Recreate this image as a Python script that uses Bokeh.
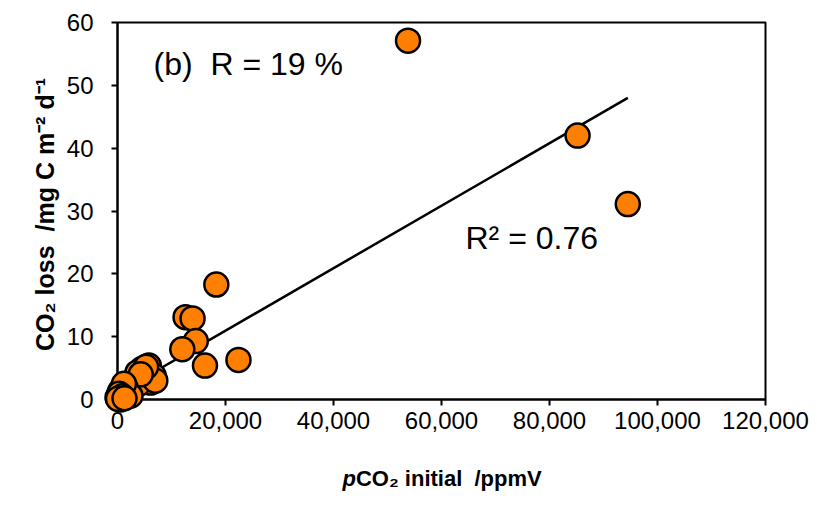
import math
from bokeh.plotting import figure
from bokeh.models import Range1d, Label, BoxAnnotation, NumeralTickFormatter, FixedTicker, LinearAxis
from bokeh.embed import file_html
from bokeh.resources import INLINE

# ---- data ----
x_vals = [53800, 85200, 94500, 18300, 12600, 13900, 14500, 12000, 16200, 22400,
          5800, 4600, 3700, 6700, 4800, 6100, 3900, 7000, 5300, 4300,
          1500, 560, 0, 2400, 560, 1200, 300, 900, 100, 1300]
y_vals = [57.1, 42.0, 31.1, 18.3, 13.1, 12.9, 9.3, 8.0, 5.4, 6.3,
          5.4, 4.9, 4.3, 3.8, 3.3, 2.7, 2.5, 3.0, 5.2, 4.0,
          1.9, 1.4, 0.3, 0.6, 0.0, 2.5, 0.9, 0.5, 0.1, 0.2]
trend_x = [0, 94500]
trend_y = [1.0, 48.0]
x_ticks = [0, 20000, 40000, 60000, 80000, 100000, 120000]
y_ticks = [0, 10, 20, 30, 40, 50, 60]
NB = "\u00a0"
label_b = "(b)" + NB + " R = 19 %"
label_r2 = "R\u00b2 = 0.76"
x_title_p = "p"
x_title_rest = "CO\u2082 initial" + NB + " /ppmV"
y_title = "CO\u2082 loss" + NB + " /mg C m\u207b\u00b2 d\u207b\u00b9"

# ---- layout: the frame covers the whole canvas ----
W, H = 815, 503
FONT = "Liberation Sans"
L, R, T, B = 117, 765, 22, 399      # pixel positions of x=0, x=120000, y=60, y=0
pxx = (R - L) / 120000.0
pxy = (B - T) / 60.0
def dx(px):
    return (px - L) / pxx
def dy(py):
    return (B - py) / pxy

p = figure(width=W, height=H, output_backend="svg", toolbar_location=None,
           x_range=Range1d(dx(0), dx(W)), y_range=Range1d(dy(H), dy(0)),
           x_axis_type=None, y_axis_type=None,
           min_border=0, min_border_left=0, min_border_right=0,
           min_border_top=0, min_border_bottom=0)
p.outline_line_color = None
p.background_fill_color = "white"
p.border_fill_color = "white"

xax = LinearAxis(fixed_location=0, ticker=FixedTicker(ticks=x_ticks),
                 formatter=NumeralTickFormatter(format="0,0"),
                 bounds=(x_ticks[0], x_ticks[-1]))
yax = LinearAxis(fixed_location=0, ticker=FixedTicker(ticks=y_ticks),
                 bounds=(y_ticks[0], y_ticks[-1]))
for ax in (xax, yax):
    ax.axis_line_color = "black"
    ax.axis_line_width = 2
    ax.major_tick_line_color = "black"
    ax.major_tick_line_width = 2
    ax.major_tick_in = 0
    ax.major_tick_out = 6
    ax.minor_tick_line_color = None
    ax.major_label_text_font = FONT
    ax.major_label_text_font_size = "24px"
    ax.major_label_text_color = "black"
    ax.level = "underlay"
xax.major_label_standoff = 6
yax.major_label_standoff = 18
p.add_layout(xax, "below")
p.add_layout(yax, "left")

box = BoxAnnotation(left=x_ticks[0], right=x_ticks[-1], bottom=y_ticks[0], top=y_ticks[-1],
                    fill_alpha=0, line_color="black", line_alpha=1.0, line_width=2,
                    level="underlay")
p.add_layout(box)

p.line(trend_x, trend_y, line_color="black", line_width=2.5)
p.scatter(x_vals, y_vals, size=24, fill_color="#FF8000", line_color="black",
          line_width=2.5)

p.add_layout(Label(x=dx(153), y=dy(63), text=label_b,
                   text_font=FONT, text_font_size="32px", text_color="black",
                   text_baseline="alphabetic"))
p.add_layout(Label(x=dx(465), y=dy(237), text=label_r2,
                   text_font=FONT, text_font_size="32px", text_color="black",
                   text_baseline="alphabetic"))

# x title (italic p + bold rest), centred on the plot area
fs = 22
total_em = 9.0
start_px = (L + R) / 2 - total_em * fs / 2
split_px = start_px + 0.611 * fs
p.add_layout(Label(x=dx(split_px), y=dy(478), text=x_title_p, text_font=FONT,
                   text_font_size=f"{fs}px", text_font_style="bold italic",
                   text_align="right", text_baseline="alphabetic", text_color="black"))
p.add_layout(Label(x=dx(split_px), y=dy(478), text=x_title_rest, text_font=FONT,
                   text_font_size=f"{fs}px", text_font_style="bold",
                   text_align="left", text_baseline="alphabetic", text_color="black"))

p.add_layout(Label(x=dx(44), y=dy(214), text=y_title,
                   text_font=FONT, text_font_size="25px", text_font_style="bold",
                   angle=math.pi / 2, text_align="center", text_baseline="alphabetic",
                   text_color="black"))

open("out.html", "w").write(file_html(p, INLINE))
